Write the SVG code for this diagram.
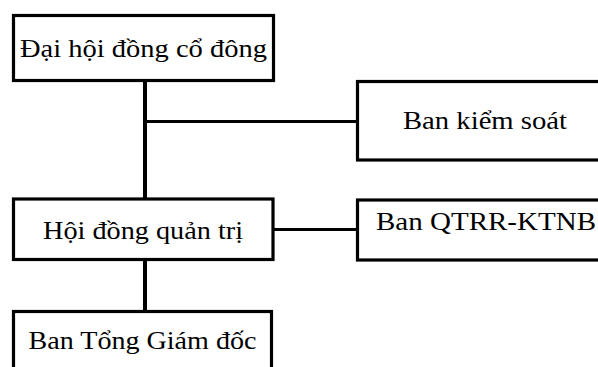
<svg xmlns="http://www.w3.org/2000/svg" width="598" height="367" viewBox="0 0 598 367">
<style>
.box{fill:#fff;stroke:#000;stroke-width:3.2}
.lbl{font-family:"Liberation Serif","Times New Roman",serif;font-size:25.5px;fill:#000}
.conn{stroke:#000;fill:none}
</style>
<rect width="598" height="367" fill="#fff"/>
<g id="connectors">
<line class="conn" x1="145" y1="80" x2="145" y2="200" stroke-width="4"/>
<line class="conn" x1="145" y1="121.5" x2="358" y2="121.5" stroke-width="3"/>
<line class="conn" x1="273" y1="229.5" x2="358" y2="229.5" stroke-width="3"/>
<line class="conn" x1="145" y1="259" x2="145" y2="312" stroke-width="4"/>
</g>
<g id="dhdcd">
<rect class="box" x="13.5" y="15.5" width="260" height="65"/>
<text class="lbl" x="20" y="57" textLength="247" lengthAdjust="spacingAndGlyphs">Đại hội đồng cổ đông</text>
</g>
<g id="bks">
<rect class="box" x="357.5" y="81.5" width="260" height="78.5"/>
<text class="lbl" x="403" y="128.5" textLength="164" lengthAdjust="spacingAndGlyphs">Ban kiểm soát</text>
</g>
<g id="hdqt">
<rect class="box" x="13.5" y="199" width="259.5" height="60.5"/>
<text class="lbl" x="43" y="238.5" textLength="200" lengthAdjust="spacingAndGlyphs">Hội đồng quản trị</text>
</g>
<g id="qtrr">
<rect class="box" x="357.5" y="200" width="260" height="60"/>
<text class="lbl" x="376" y="230" textLength="220" lengthAdjust="spacingAndGlyphs">Ban QTRR-KTNB</text>
</g>
<g id="btgd">
<rect class="box" x="13.5" y="311.5" width="258" height="80"/>
<text class="lbl" x="28.5" y="348.5" textLength="228" lengthAdjust="spacingAndGlyphs">Ban Tổng Giám đốc</text>
</g>
</svg>
